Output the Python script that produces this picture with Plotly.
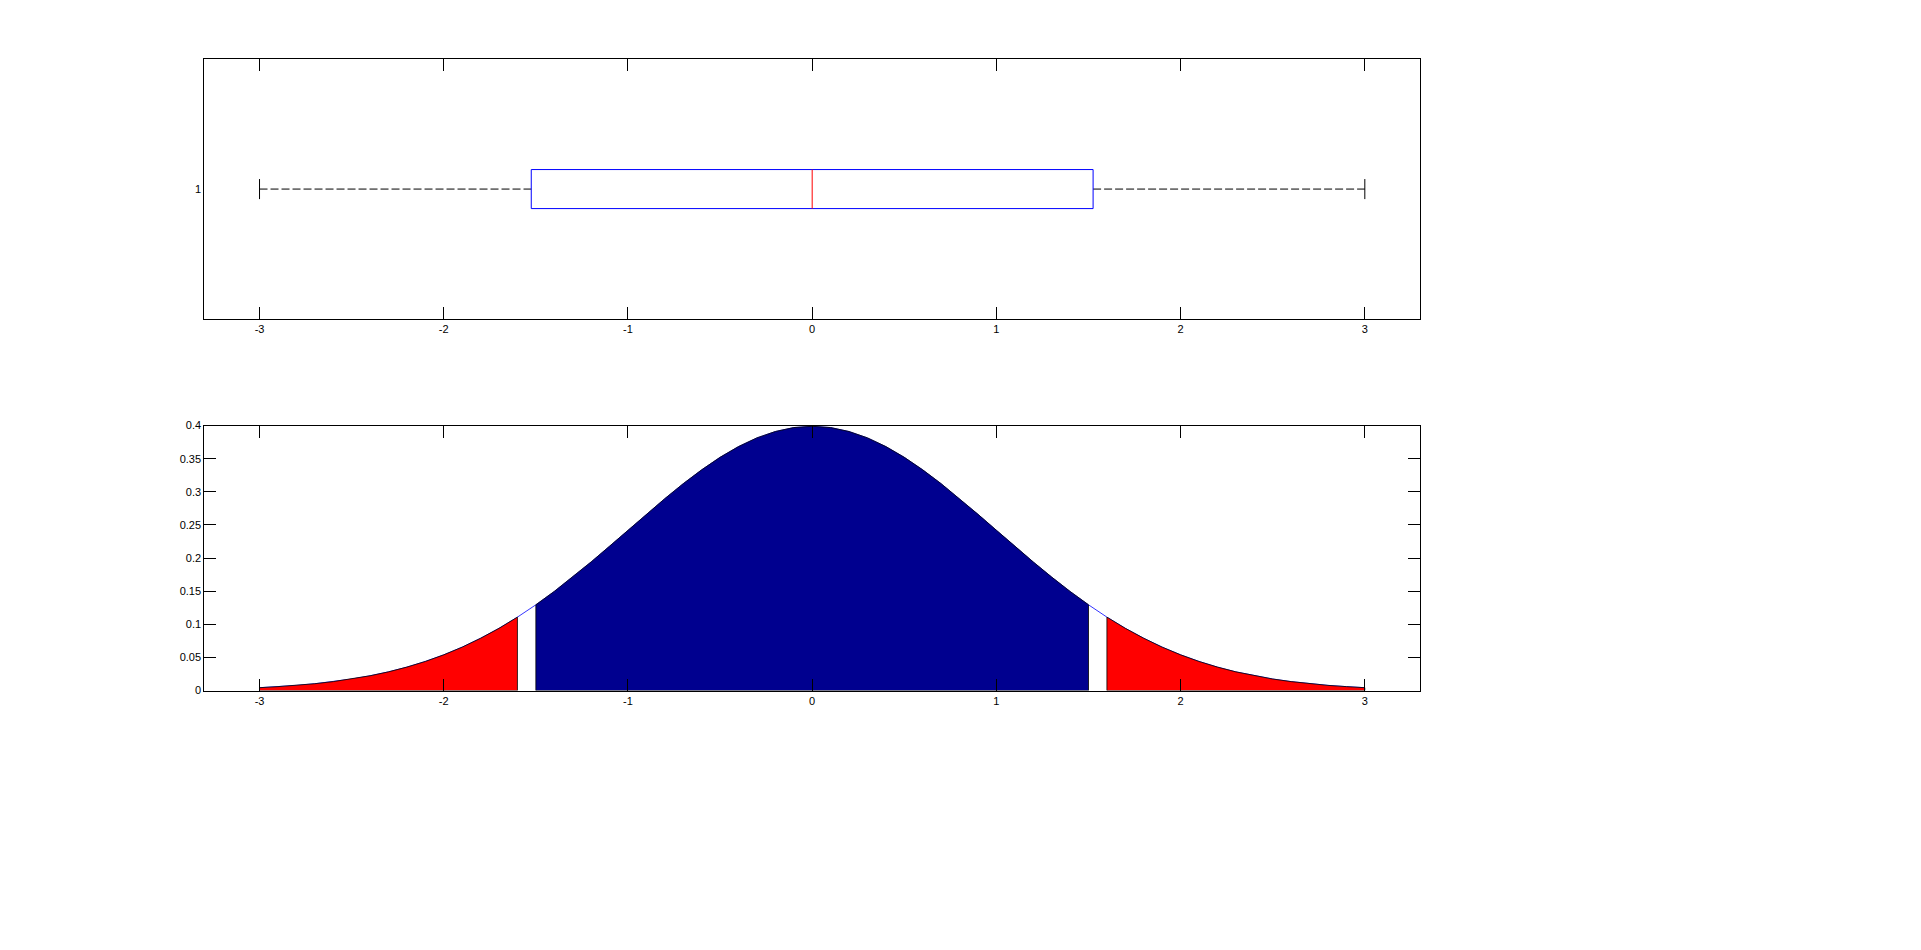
import plotly.graph_objects as go
from plotly.subplots import make_subplots

# sample points of the curve (step 0.1) and density values
x_vals = [-3.0, -2.9, -2.8, -2.7, -2.6, -2.5, -2.4, -2.3, -2.2, -2.1,
          -2.0, -1.9, -1.8, -1.7, -1.6, -1.5, -1.4, -1.3, -1.2, -1.1,
          -1.0, -0.9, -0.8, -0.7, -0.6, -0.5, -0.4, -0.3, -0.2, -0.1,
          0.0, 0.1, 0.2, 0.3, 0.4, 0.5, 0.6, 0.7, 0.8, 0.9,
          1.0, 1.1, 1.2, 1.3, 1.4, 1.5, 1.6, 1.7, 1.8, 1.9,
          2.0, 2.1, 2.2, 2.3, 2.4, 2.5, 2.6, 2.7, 2.8, 2.9, 3.0]
pdf_vals = [0.0044, 0.0060, 0.0079, 0.0104, 0.0136, 0.0175, 0.0224, 0.0283, 0.0355, 0.0440,
            0.0540, 0.0656, 0.0790, 0.0940, 0.1109, 0.1295, 0.1497, 0.1714, 0.1942, 0.2179,
            0.2420, 0.2661, 0.2897, 0.3123, 0.3332, 0.3521, 0.3683, 0.3814, 0.3910, 0.3970,
            0.3989, 0.3970, 0.3910, 0.3814, 0.3683, 0.3521, 0.3332, 0.3123, 0.2897, 0.2661,
            0.2420, 0.2179, 0.1942, 0.1714, 0.1497, 0.1295, 0.1109, 0.0940, 0.0790, 0.0656,
            0.0540, 0.0440, 0.0355, 0.0283, 0.0224, 0.0175, 0.0136, 0.0104, 0.0079, 0.0060, 0.0044]

# boxplot summary
box_pos = 1
box_min = -3.0
box_q1 = -1.525
box_median = 0.0
box_q3 = 1.525
box_max = 3.0

# shaded regions
left_tail = (-3.0, -1.6)
middle = (-1.5, 1.5)
right_tail = (1.6, 3.0)

x_ticks = [-3, -2, -1, 0, 1, 2, 3]
x_ticktext = ['-3', '-2', '-1', '0', '1', '2', '3']
y_ticks = [0, 0.05, 0.1, 0.15, 0.2, 0.25, 0.3, 0.35, 0.4]
y_ticktext = ['0', '0.05', '0.1', '0.15', '0.2', '0.25', '0.3', '0.35', '0.4']

NAVY = '#00008F'
BOX_H = 0.075
CAP_H = 0.0385

fig = make_subplots(rows=2, cols=1)

# ---- top: boxplot drawn with lines
fig.add_trace(go.Scatter(x=[box_min, box_q1], y=[box_pos, box_pos], mode='lines',
                         line=dict(color='black', width=1, dash='8px,3px')), row=1, col=1)
fig.add_trace(go.Scatter(x=[box_q3, box_max], y=[box_pos, box_pos], mode='lines',
                         line=dict(color='black', width=1, dash='8px,3px')), row=1, col=1)
for v in [box_min, box_max]:
    fig.add_trace(go.Scatter(x=[v, v], y=[box_pos - CAP_H, box_pos + CAP_H], mode='lines',
                             line=dict(color='black', width=1)), row=1, col=1)
fig.add_trace(go.Scatter(x=[box_q1, box_q3, box_q3, box_q1, box_q1],
                         y=[box_pos - BOX_H, box_pos - BOX_H, box_pos + BOX_H, box_pos + BOX_H, box_pos - BOX_H],
                         mode='lines', line=dict(color='#0000FF', width=1)), row=1, col=1)
fig.add_trace(go.Scatter(x=[box_median, box_median], y=[box_pos - BOX_H, box_pos + BOX_H], mode='lines',
                         line=dict(color='#FF0000', width=1)), row=1, col=1)

# ---- bottom: density with shaded areas
fig.add_trace(go.Scatter(x=x_vals, y=pdf_vals, mode='lines', line=dict(color='#0000FF', width=0.8)),
              row=2, col=1)


def region(lo, hi):
    xs = [x for x in x_vals if lo - 1e-9 <= x <= hi + 1e-9]
    ys = [y for x, y in zip(x_vals, pdf_vals) if lo - 1e-9 <= x <= hi + 1e-9]
    return [xs[0]] + xs + [xs[-1], xs[0]], [0] + ys + [0, 0]


for (lo, hi), col in [(middle, NAVY), (left_tail, '#FF0000'), (right_tail, '#FF0000')]:
    rx, ry = region(lo, hi)
    fig.add_trace(go.Scatter(x=rx, y=ry, mode='lines', fill='toself', fillcolor=col,
                             line=dict(color='black', width=0.8)), row=2, col=1)

axis_style = dict(showline=True, linecolor='black', linewidth=1, mirror='ticks',
                  ticks='inside', ticklen=12, tickcolor='black', tickwidth=1,
                  showgrid=False, zeroline=False,
                  tickfont=dict(family='Liberation Sans', size=11, color='black'))

fig.update_xaxes(axis_style)
fig.update_yaxes(axis_style)
fig.update_xaxes(range=[-3.3, 3.3], tickvals=x_ticks, ticktext=x_ticktext)

fig.update_layout(
    xaxis=dict(domain=[0.1033, 0.7432]),
    yaxis=dict(domain=[0.6654, 0.9452], range=[0.5, 1.5], tickvals=[1], ticktext=['1'], ticklen=0),
    xaxis2=dict(domain=[0.1033, 0.7432]),
    yaxis2=dict(domain=[0.2660, 0.5510], range=[0, 0.4], tickvals=y_ticks, ticktext=y_ticktext),
    width=1900, height=930,
    margin=dict(l=0, r=0, t=0, b=0),
    showlegend=False,
    plot_bgcolor='white', paper_bgcolor='white',
    template='none',
)

fig.write_html("out.html")
